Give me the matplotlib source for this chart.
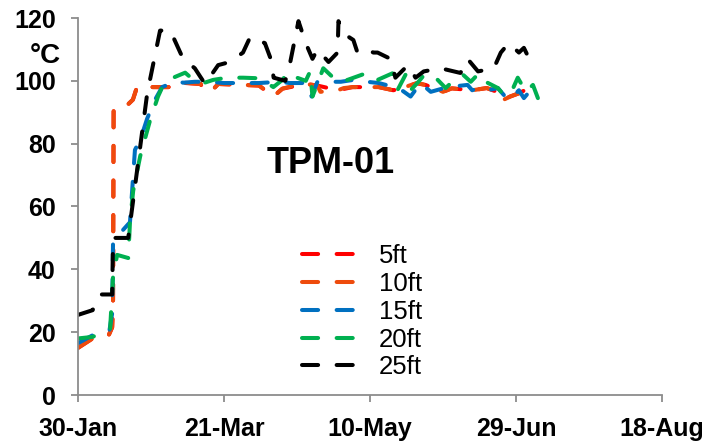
import numpy as np
import matplotlib
matplotlib.use("Agg")
import matplotlib.pyplot as plt

# tage ab 30-Jan, werte in degC
tage_5ft = [0, 5, 10.5, 11.7, 12, 12.2, 15, 18.8, 20.2, 33, 35, 42, 43, 46, 48, 62, 66.9, 70, 78,
            82, 89, 94, 103, 108, 111, 116, 119, 125, 128, 135, 140, 143.5, 145.8, 148, 150.9, 153]
temp_5ft = [15, 18, 19, 21.5, 29, 90.5, 90.5, 94, 98, 98, 99.4, 99, 97, 97, 99, 98.5, 95, 97.5, 99,
            98.5, 97, 98, 98, 97, 97.7, 99.2, 98.7, 96.5, 97.6, 97, 97.7, 96.5, 94, 95, 96, 97]

tage_10ft = [0, 5, 10.5, 11.7, 12, 12.2, 15, 18.8, 20.2, 33, 35, 42, 43, 46, 48, 62, 66.9, 70, 76,
             78, 82, 83, 89, 91, 94, 101, 103, 108, 111, 116, 119, 125, 128, 135, 140, 143.5, 145.8,
             148, 150.9, 154]
temp_10ft = [15, 18, 19, 21.6, 29, 90.7, 90.7, 94, 98, 98, 99.5, 99, 97, 97, 99, 98.5, 95, 97.5, 99,
             99, 98.5, 96.5, 97, 97.7, 98, 98, 98, 97, 97.7, 99.3, 98.7, 96.5, 97.6, 97, 97.7, 96.5,
             94, 95, 96, 97]

tage_15ft = [0, 5, 10.8, 11.7, 12, 17.8, 19.5, 21.6, 23.7, 26.4, 28.8, 34, 36, 40, 45, 50, 62, 69,
             72.5, 78.5, 80, 82, 85.5, 90, 94.3, 99, 103, 110, 113.9, 117.3, 120.8, 126.6, 133.4,
             135, 137, 140.3, 143.8, 147.2, 148.9, 151, 152.7, 155, 156.8]
temp_15ft = [16.5, 19, 20.7, 26, 49, 55, 78, 82, 88, 94, 98, 100, 99.4, 99.7, 99.7, 99.3, 99.3,
             99.7, 99.3, 99.3, 95, 99.7, 99.7, 99.7, 100.3, 99.7, 99.3, 97.6, 95, 99.3, 96.5, 98,
             98.7, 97, 97.7, 97, 97.7, 94, 95, 97, 94.5, 97, 93.5]

tage_20ft = [0, 5, 11, 12, 13.4, 17.2, 17.8, 18.9, 21.3, 24.7, 27.4, 29.2, 32.6, 36.7, 39.5, 43,
             46.3, 51, 56.6, 62.4, 66.9, 70, 72, 75, 78, 79.5, 80.3, 84, 88.9, 92.3, 97.4, 101.2,
             102.6, 107.7, 109.4, 112.2, 113.9, 116.6, 119, 123.2, 125.9, 130, 131.8, 134.5, 137.3,
             139.6, 143.8, 145.8, 148.2, 150.6, 153.4, 155.8, 157.5]
temp_20ft = [18, 18.5, 21, 37.6, 44.6, 43.6, 55, 65, 76, 87.5, 95, 98.7, 101, 102.6, 100.3, 99.3,
             100.3, 101, 101, 100.8, 98, 100.3, 102.8, 101, 100, 103, 95, 104, 99.7, 100.3, 102, 102,
             100.3, 102.4, 97, 102, 97, 99.7, 102.4, 100.3, 97.7, 101.3, 102, 99.7, 102.4, 99.7,
             97.7, 95.5, 96, 101, 96.5, 98.7, 94.5]

tage_25ft = [0, 5, 7.5, 11.7, 12, 17.2, 23.7, 28.1, 31.6, 36, 40, 43.5, 48, 52, 56.5, 59, 64, 66,
             67, 71, 72.7, 75.5, 78, 80.3, 82, 85.8, 88.9, 89.2, 91, 94.3, 95.7, 98.5, 101.2, 102.6,
             107, 108.7, 113, 115.6, 118.4, 124.2, 131, 133.4, 137, 142.4, 144.8, 147.5, 151,
             152.7, 154]
temp_25ft = [25.5, 27, 32, 32, 50, 50, 96, 116, 116, 107, 104, 99, 105, 106, 109, 114, 112, 107,
             101, 100, 106, 119, 112, 107, 110, 106, 109, 119, 115, 113, 109, 110, 109, 109, 107,
             101, 105, 101, 103, 104, 102.5, 107, 103, 104, 109, 112, 109, 110.5, 108]

labels = ["5ft", "10ft", "15ft", "20ft", "25ft"]
farben = ["#FF0000", "#EE4B0C", "#0070C0", "#00B050", "#000000"]

xticks = [0, 50, 100, 150, 200]
xticklabels = ["30-Jan", "21-Mar", "10-May", "29-Jun", "18-Aug"]
yticks = [0, 20, 40, 60, 80, 100, 120]


def main():
    plt.rcParams["font.family"] = ["Liberation Sans", "DejaVu Sans"]
    fig = plt.figure(figsize=(7.06, 4.44), dpi=100)
    ax = fig.add_axes([78 / 706, 1 - 395 / 444, 584 / 706, 377 / 444])

    reihen = [(tage_5ft, temp_5ft), (tage_10ft, temp_10ft), (tage_15ft, temp_15ft),
              (tage_20ft, temp_20ft), (tage_25ft, temp_25ft)]
    for (t, w), lab, f in zip(reihen, labels, farben):
        ax.plot(t, w, color=f, lw=2.9, linestyle=(0, (4, 4.6)),
                dash_capstyle="round", label=lab)

    ax.set_xlim(0, 200)
    ax.set_ylim(0, 120)
    ax.set_xticks(xticks)
    ax.set_xticklabels(xticklabels)
    ax.set_yticks(yticks)

    for s in ["top", "right"]:
        ax.spines[s].set_visible(False)
    for s in ["left", "bottom"]:
        ax.spines[s].set_color("#8C8C8C")
        ax.spines[s].set_linewidth(1.3)
    ax.tick_params(axis="both", direction="out", length=5, width=1.3, color="#8C8C8C",
                   labelsize=18, pad=11)
    for lbl in ax.get_xticklabels() + ax.get_yticklabels():
        lbl.set_fontweight("bold")

    fig.text(45 / 706, 1 - 56 / 444, "°C", fontsize=20, fontweight="bold",
             ha="center", va="center")
    ax.text(331 / 706, 1 - 163 / 444, "TPM-01", transform=fig.transFigure, fontsize=26,
            fontweight="bold", ha="center", va="center")

    ax.legend(loc="upper left", bbox_to_anchor=(302 / 706, 1 - 244 / 444),
              bbox_transform=fig.transFigure, frameon=False, fontsize=18.5,
              handlelength=2.15, handletextpad=0.85, labelspacing=0.15,
              borderpad=0, borderaxespad=0)

    fig.savefig("out.png", dpi=100)


if __name__ == "__main__":
    main()
